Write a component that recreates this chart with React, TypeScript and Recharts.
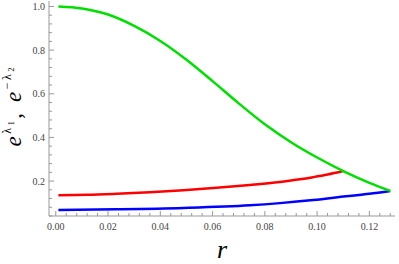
import React from "react";
import { LineChart, Line, XAxis, YAxis } from "recharts";

// metric curves
const greenR = [0.001, 0.01, 0.02, 0.03, 0.04, 0.05, 0.06, 0.07, 0.08, 0.09, 0.1, 0.11, 0.12, 0.128];
const greenV = [1.0, 0.991, 0.963, 0.911, 0.842, 0.756, 0.658, 0.556, 0.46, 0.378, 0.308, 0.246, 0.192, 0.155];

const redR = [0.001, 0.012, 0.0233, 0.036, 0.0488, 0.0615, 0.0743, 0.0858, 0.0934, 0.0985, 0.104, 0.11];
const redV = [0.135, 0.137, 0.142, 0.149, 0.158, 0.169, 0.182, 0.196, 0.208, 0.218, 0.23, 0.246];

const blueR = [0.001, 0.0233, 0.0488, 0.0743, 0.0858, 0.0985, 0.111, 0.12, 0.128];
const blueV = [0.068, 0.071, 0.077, 0.089, 0.099, 0.113, 0.13, 0.142, 0.155];

const xMajor = [0, 0.02, 0.04, 0.06, 0.08, 0.1, 0.12];
const yMajor = [0.2, 0.4, 0.6, 0.8, 1.0];

const xTicks: number[] = [];
for (let i = 0; i <= 32; i++) xTicks.push(+(i * 0.004).toFixed(3));
const yTicks: number[] = [];
for (let i = 1; i <= 25; i++) yTicks.push(+(i * 0.04).toFixed(2));

const toRows = (rs: number[], vs: number[]) => rs.map((r, i) => ({ r, v: vs[i] }));
const green = toRows(greenR, greenV);
const red = toRows(redR, redV);
const blue = toRows(blueR, blueV);

const FRAME = "#999";
const FONT = "Liberation Serif, Times New Roman, serif";
const isMajor = (v: number, list: number[]) => list.some((m) => Math.abs(m - v) < 1e-6);

const BottomTick = (p: any) => {
  const major = isMajor(p.payload.value, xMajor);
  return (
    <g>
      <line x1={p.x} x2={p.x} y1={p.y} y2={p.y - (major ? 5 : 3)} stroke={FRAME} />
      {major && (
        <text x={p.x} y={p.y + 14} textAnchor="middle" fontSize={10} fill="#444" fontFamily={FONT}>
          {p.payload.value.toFixed(2)}
        </text>
      )}
    </g>
  );
};

const TopTick = (p: any) => {
  const major = isMajor(p.payload.value, xMajor);
  return <line x1={p.x} x2={p.x} y1={p.y} y2={p.y + (major ? 5 : 3)} stroke={FRAME} />;
};

const LeftTick = (p: any) => {
  const major = isMajor(p.payload.value, yMajor);
  return (
    <g>
      <line x1={p.x} x2={p.x + (major ? 5 : 3)} y1={p.y} y2={p.y} stroke={FRAME} />
      {major && (
        <text x={p.x - 4} y={p.y + 3.5} textAnchor="end" fontSize={10} fill="#444" fontFamily={FONT}>
          {p.payload.value.toFixed(1)}
        </text>
      )}
    </g>
  );
};

const RightTick = (p: any) => {
  const major = isMajor(p.payload.value, yMajor);
  return <line x1={p.x} x2={p.x - (major ? 5 : 3)} y1={p.y} y2={p.y} stroke={FRAME} />;
};

const YTitle = () => (
  <text
    transform="translate(21,107) rotate(-90)"
    textAnchor="middle"
    fill="#000"
    fontFamily={FONT}
    textLength={79}
    lengthAdjust="spacing"
  >
    <tspan fontSize={23} fontStyle="italic">e</tspan>
    <tspan fontSize={12} dy={-10}>λ</tspan>
    <tspan fontSize={8} dy={3}>1</tspan>
    <tspan fontSize={23} dy={7}>, </tspan>
    <tspan fontSize={23} fontStyle="italic">e</tspan>
    <tspan fontSize={12} dy={-10}>−λ</tspan>
    <tspan fontSize={8} dy={3}>2</tspan>
  </text>
);

const XTitle = () => (
  <text x={222} y={258} textAnchor="middle" fontSize={26} fontStyle="italic" fill="#000" fontFamily={FONT}>
    r
  </text>
);

export default function App() {
  const domX: [number, number] = [-0.0026, 0.1298];
  const domY: [number, number] = [0.04, 1.025];
  return (
    <div style={{ position: "absolute", left: 0, top: 0, width: 399, height: 264, background: "#fff" }}>
      <LineChart width={399} height={264} margin={{ top: 1, right: 4, bottom: 0, left: 0 }}>
        <XAxis
          dataKey="r"
          type="number"
          domain={domX}
          ticks={xTicks}
          interval={0}
          height={48}
          tickSize={0}
          tickMargin={0}
          tickLine={false}
          axisLine={{ stroke: FRAME }}
          tick={BottomTick}
          allowDataOverflow
          label={{ content: () => <XTitle /> }}
        />
        <XAxis
          xAxisId="top"
          orientation="top"
          dataKey="r"
          type="number"
          domain={domX}
          ticks={xTicks}
          interval={0}
          height={0}
          tickSize={0}
          tickMargin={0}
          tickLine={false}
          axisLine={{ stroke: FRAME }}
          tick={TopTick}
          allowDataOverflow
        />
        <YAxis
          type="number"
          domain={domY}
          ticks={yTicks}
          interval={0}
          width={49}
          tickSize={0}
          tickMargin={0}
          tickLine={false}
          axisLine={{ stroke: FRAME }}
          tick={LeftTick}
          allowDataOverflow
          label={{ content: () => <YTitle /> }}
        />
        <YAxis
          yAxisId="right"
          orientation="right"
          type="number"
          domain={domY}
          ticks={yTicks}
          interval={0}
          width={0}
          tickSize={0}
          tickMargin={0}
          tickLine={false}
          axisLine={{ stroke: FRAME }}
          tick={RightTick}
          allowDataOverflow
        />
        <Line data={blue} dataKey="v" type="monotone" stroke="#0000ff" strokeWidth={2.5} dot={false} isAnimationActive={false} />
        <Line data={red} dataKey="v" type="monotone" stroke="#ff0000" strokeWidth={2.5} dot={false} isAnimationActive={false} />
        <Line data={green} dataKey="v" type="monotone" stroke="#00e000" strokeWidth={2.5} dot={false} isAnimationActive={false} />
      </LineChart>
    </div>
  );
}
